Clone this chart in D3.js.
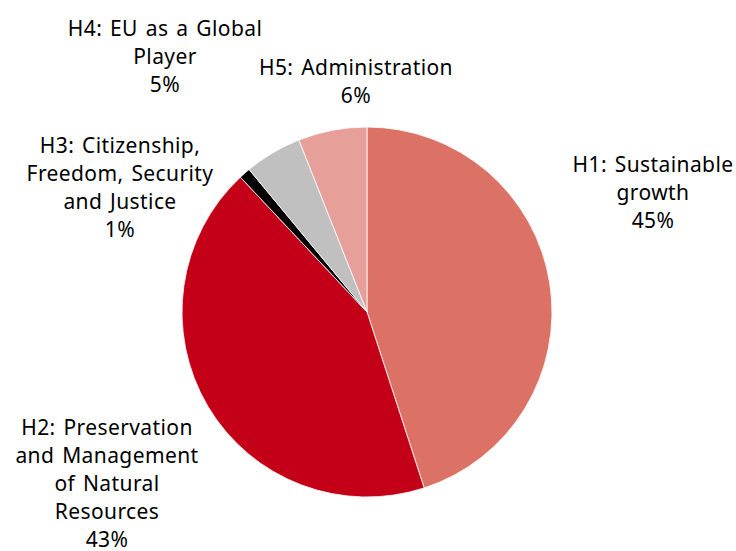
<!DOCTYPE html>
<html>
<head>
<meta charset="utf-8">
<script src="https://cdn.jsdelivr.net/npm/d3@7"></script>
<style>
  html, body { margin: 0; padding: 0; background: #fff; }
  svg text { font-family: "Noto Sans", "Open Sans", sans-serif; font-size: 21px; letter-spacing: 0.4px; word-spacing: 2px; fill: #000; }
</style>
</head>
<body>
<svg id="chart" width="736" height="551"></svg>
<script>
// Budget headings and their shares (%)
const headings = [
  "H1: Sustainable growth",
  "H2: Preservation and Management of Natural Resources",
  "H3: Citizenship, Freedom, Security and Justice",
  "H4: EU as a Global Player",
  "H5: Administration"
];
const shares = [45, 43, 1, 5, 6];
const colors = ["#dc7266", "#c30017", "#000000", "#c0c0c0", "#e79f99"];

// Label text, split into lines as set on the page
const labelLines = [
  ["H1: Sustainable", "growth"],
  ["H2: Preservation", "and Management", "of Natural", "Resources"],
  ["H3: Citizenship,", "Freedom, Security", "and Justice"],
  ["H4: EU as a Global", "Player"],
  ["H5: Administration"]
];
// Anchor (centre x, first baseline y) of each label block
const labelAnchors = [
  [653, 172],
  [107, 435],
  [120, 153],
  [165, 36],
  [356, 75]
];

const svg = d3.select("#chart");
const cx = 367, cy = 312, radius = 185;
const lineH = 28;

const pie = d3.pie().sort(null).value(d => d)(shares);
const arc = d3.arc().innerRadius(0).outerRadius(radius);

const g = svg.append("g").attr("transform", `translate(${cx},${cy})`);
g.selectAll("path")
  .data(pie)
  .join("path")
  .attr("d", arc)
  .attr("fill", (d, i) => colors[i])
  .attr("stroke", "#fff")
  .attr("stroke-width", 0.8);

const labels = svg.selectAll("text.lbl")
  .data(headings)
  .join("text")
  .attr("class", "lbl")
  .attr("text-anchor", "middle");

labels.each(function(h, i) {
  const t = d3.select(this);
  const [x, y] = labelAnchors[i];
  const lines = labelLines[i].concat([shares[i] + "%"]);
  lines.forEach((s, k) => {
    t.append("tspan").attr("x", x).attr("y", y + k * lineH).text(s);
  });
});
</script>
</body>
</html>
